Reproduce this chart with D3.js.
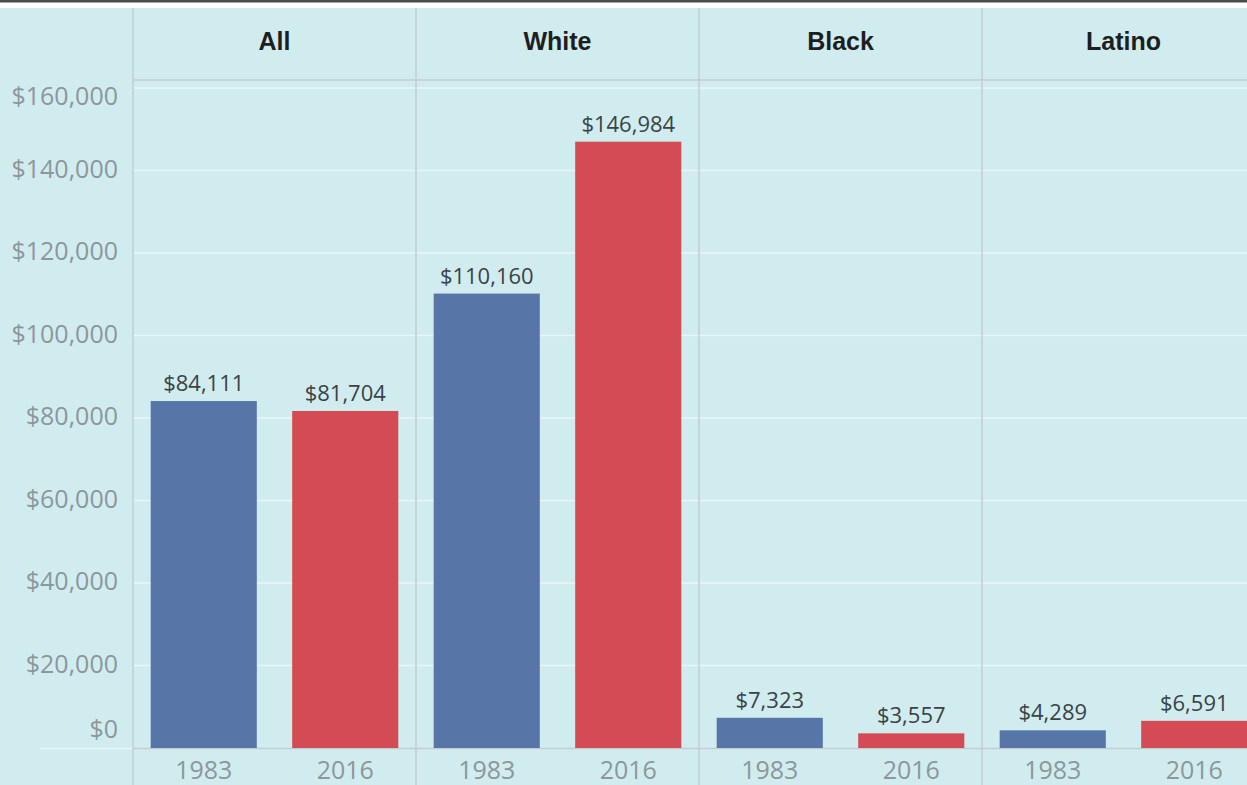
<!DOCTYPE html>
<html>
<head>
<meta charset="utf-8">
<script src="https://cdn.jsdelivr.net/npm/d3@7"></script>
<style>
  html, body { margin: 0; padding: 0; background: #ffffff; }
  svg { display: block; }
</style>
</head>
<body>
<svg id="chart" width="1247" height="785"></svg>
<script>
// Median wealth by group, 1983 vs 2016
const groups = ["All", "White", "Black", "Latino"];
const years = ["1983", "2016"];
const values1983 = [84111, 110160, 7323, 4289];
const values2016 = [81704, 146984, 3557, 6591];
const yTicks = [0, 20000, 40000, 60000, 80000, 100000, 120000, 140000, 160000];

const W = 1247, H = 785;
const svg = d3.select("#chart");

const bg = "#d1ecef";
const divider = "#c3ccd1";
const colors = { "1983": "#5875a7", "2016": "#d34b54" };
const bodyFont = "'Open Sans', Lato, sans-serif";

const plotLeft = 133, panelW = 283;
const headerTop = 8, headerBottom = 80;
const baseline = 748, topY = 88;

// background and top rule
svg.append("rect").attr("x", 0).attr("y", 0).attr("width", W).attr("height", H).attr("fill", "#ffffff");
svg.append("rect").attr("x", 0).attr("y", headerTop).attr("width", W).attr("height", H - headerTop).attr("fill", bg);
svg.append("rect").attr("x", 0).attr("y", 0).attr("width", W).attr("height", 2.5).attr("fill", "#4a4a4a");

const y = d3.scaleLinear().domain([0, 160000]).range([baseline, topY]);
const panelX = d3.scaleBand().domain(groups).range([plotLeft, plotLeft + panelW * groups.length]).padding(0);
const inner = d3.scaleBand().domain(years).range([0, panelW]).paddingInner(0.25).paddingOuter(0.125);

// gridlines
svg.append("g").selectAll("line").data(yTicks.filter(d => d > 0)).join("line")
  .attr("x1", plotLeft).attr("x2", W)
  .attr("y1", d => y(d)).attr("y2", d => y(d))
  .attr("stroke", "#ffffff").attr("stroke-opacity", 0.55).attr("stroke-width", 1.5);

// y axis labels (end labels nudged inside, as the layout clamps them)
const fmt = d => "$" + d3.format(",")(d);
const yAxis = d3.axisLeft(y).tickValues(yTicks).tickFormat(fmt).tickSize(0).tickPadding(0);
const yg = svg.append("g").attr("transform", `translate(${plotLeft - 15},0)`).call(yAxis);
yg.select(".domain").remove();
yg.selectAll("text")
  .attr("fill", "#8c979b")
  .attr("font-family", bodyFont)
  .attr("font-size", 25)
  .attr("dy", null)
  .attr("dominant-baseline", "middle")
  .attr("y", d => Math.min(Math.max(y(d), 98), 731) - y(d));

// baseline
svg.append("line").attr("x1", plotLeft).attr("x2", W).attr("y1", baseline + 0.5).attr("y2", baseline + 0.5)
  .attr("stroke", divider).attr("stroke-width", 1.5);
svg.append("line").attr("x1", 40).attr("x2", plotLeft).attr("y1", baseline + 0.5).attr("y2", baseline + 0.5)
  .attr("stroke", "#ffffff").attr("stroke-opacity", 0.5).attr("stroke-width", 1.5);

// header rule
svg.append("line").attr("x1", plotLeft).attr("x2", W).attr("y1", headerBottom).attr("y2", headerBottom)
  .attr("stroke", divider).attr("stroke-width", 1.5);

// panel dividers
svg.append("g").selectAll("line").data(groups).join("line")
  .attr("x1", d => panelX(d)).attr("x2", d => panelX(d))
  .attr("y1", headerTop).attr("y2", H)
  .attr("stroke", divider).attr("stroke-width", 1.5);

// headers
svg.append("g").selectAll("text").data(groups).join("text")
  .attr("x", d => panelX(d) + panelW / 2)
  .attr("y", 43)
  .attr("text-anchor", "middle").attr("dominant-baseline", "middle")
  .attr("font-family", "'Liberation Sans', Arial, sans-serif")
  .attr("font-weight", "bold").attr("font-size", 25)
  .attr("fill", "#1e1e1e")
  .text(d => d);

// bars
const rows = [];
groups.forEach((g, i) => {
  rows.push({ group: g, year: "1983", value: values1983[i] });
  rows.push({ group: g, year: "2016", value: values2016[i] });
});

const barG = svg.append("g");
barG.selectAll("rect").data(rows).join("rect")
  .attr("x", d => panelX(d.group) + inner(d.year))
  .attr("width", inner.bandwidth())
  .attr("y", d => y(d.value))
  .attr("height", d => baseline - y(d.value))
  .attr("fill", d => colors[d.year]);

// value labels
barG.selectAll("text").data(rows).join("text")
  .attr("x", d => panelX(d.group) + inner(d.year) + inner.bandwidth() / 2)
  .attr("y", d => y(d.value) - 10)
  .attr("text-anchor", "middle")
  .attr("font-family", bodyFont)
  .attr("font-size", 22)
  .attr("fill", "#3b4246")
  .text(d => fmt(d.value));

// year labels
svg.append("g").selectAll("text").data(rows).join("text")
  .attr("x", d => panelX(d.group) + inner(d.year) + inner.bandwidth() / 2)
  .attr("y", 772)
  .attr("text-anchor", "middle").attr("dominant-baseline", "middle")
  .attr("font-family", bodyFont)
  .attr("font-size", 25)
  .attr("fill", "#8c979b")
  .text(d => d.year);
</script>
</body>
</html>
